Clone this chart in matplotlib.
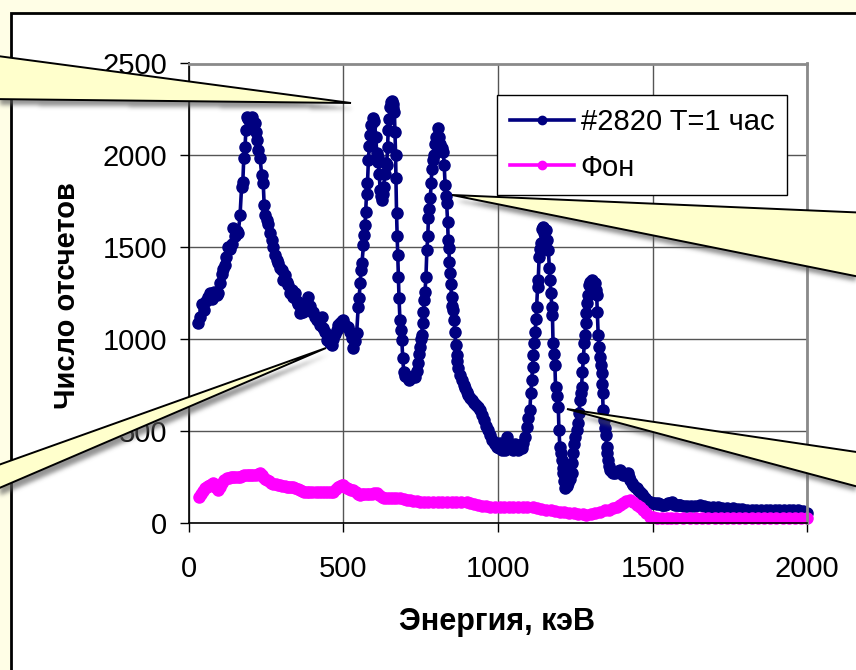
import numpy as np
import matplotlib
matplotlib.use("Agg")
import matplotlib.pyplot as plt
from matplotlib.path import Path
from matplotlib.patches import Polygon, Rectangle

plt.rcParams['font.family'] = ['Liberation Sans', 'DejaVu Sans']

# ---- spectrum of sample #2820, 1 hour exposure ----
sample_energy = [
    30, 36, 42, 48, 55, 62, 69, 76, 83, 90, 95, 101, 107, 112, 117, 122, 127, 133, 139, 144,
    150, 155, 160, 166, 171, 175, 178, 182, 185, 188, 193, 198, 204, 209, 214, 217, 220, 225, 231, 236,
    241, 244, 247, 252, 257, 263, 268, 274, 279, 285, 290, 296, 301, 306, 312, 317, 322, 328, 333, 338,
    344, 349, 354, 360, 365, 371, 376, 381, 387, 392, 398, 403, 408, 414, 419, 425, 430, 435, 441, 446,
    451, 457, 462, 467, 473, 478, 484, 489, 495, 500, 505, 511, 516, 521, 527, 532, 537, 543, 548, 551,
    554, 557, 560, 565, 568, 570, 572, 575, 578, 581, 584, 587, 590, 595, 600, 605, 608, 611, 613, 616,
    619, 622, 624, 627, 630, 634, 637, 640, 643, 645, 648, 651, 654, 656, 659, 662, 665, 667, 669, 670,
    672, 674, 676, 678, 680, 683, 686, 689, 692, 695, 700, 705, 712, 718, 725, 732, 737, 742, 745, 748,
    751, 753, 756, 759, 762, 764, 767, 770, 773, 775, 778, 781, 784, 786, 789, 792, 796, 801, 807, 810,
    812, 818, 823, 826, 829, 832, 834, 837, 839, 841, 843, 845, 847, 850, 852, 855, 858, 861, 863, 866,
    869, 872, 877, 884, 890, 894, 899, 903, 910, 916, 922, 929, 935, 942, 948, 955, 961, 968, 974, 980,
    986, 991, 997, 1002, 1007, 1013, 1018, 1023, 1028, 1033, 1039, 1044, 1050, 1055, 1060, 1066, 1071, 1077, 1082, 1088,
    1093, 1098, 1103, 1106, 1109, 1112, 1114, 1117, 1120, 1123, 1125, 1128, 1130, 1133, 1136, 1138, 1141, 1144, 1147, 1150,
    1155, 1160, 1163, 1166, 1168, 1171, 1174, 1176, 1178, 1181, 1184, 1186, 1190, 1195, 1197, 1200, 1203, 1206, 1209, 1211,
    1214, 1217, 1222, 1227, 1232, 1238, 1240, 1243, 1246, 1249, 1254, 1259, 1262, 1265, 1268, 1270, 1273, 1276, 1279, 1281,
    1284, 1286, 1289, 1292, 1294, 1298, 1303, 1308, 1313, 1316, 1319, 1321, 1324, 1327, 1330, 1333, 1335, 1337, 1338, 1340,
    1343, 1346, 1349, 1351, 1354, 1357, 1360, 1362, 1367, 1372, 1378, 1383, 1389, 1394, 1400, 1405, 1410, 1416, 1421, 1424,
    1427, 1432, 1437, 1443, 1448, 1454, 1459, 1464, 1470, 1475, 1480, 1486, 1491, 1497, 1502, 1508, 1513, 1518, 1524, 1529,
    1535, 1540, 1546, 1551, 1557, 1562, 1567, 1573, 1578, 1584, 1588, 1600, 1612, 1625, 1638, 1653, 1665, 1680, 1695, 1710,
    1725, 1740, 1761, 1775, 1790, 1805, 1820, 1835, 1850, 1865, 1880, 1895, 1910, 1925, 1940, 1955, 1970, 1985, 1998,
]
sample_counts = [
    1090, 1120, 1195, 1160, 1210, 1230, 1250, 1220, 1260, 1240, 1251, 1305, 1358, 1380, 1403, 1450, 1503, 1490, 1521, 1603,
    1560, 1590, 1576, 1675, 1829, 1857, 1984, 2047, 2137, 2210, 2200, 2185, 2210, 2160, 2174, 2128, 2083, 2029, 1984, 1893,
    1848, 1730, 1676, 1650, 1630, 1576, 1540, 1503, 1458, 1430, 1413, 1390, 1377, 1322, 1349, 1310, 1295, 1250, 1270, 1230,
    1250, 1210, 1195, 1141, 1180, 1150, 1200, 1168, 1232, 1180, 1150, 1150, 1120, 1105, 1105, 1080, 1123, 1060, 1041, 996,
    1010, 980, 969, 1000, 1030, 1051, 1080, 1090, 1100, 1105, 1080, 1070, 1068, 1040, 1005, 951, 990, 1032, 1177, 1223,
    1304, 1377, 1413, 1512, 1570, 1621, 1693, 1793, 1848, 1974, 2050, 2110, 2165, 2201, 2190, 2100, 2011, 1990, 1965, 1900,
    1811, 1780, 1757, 1790, 1830, 1900, 1960, 1947, 2047, 2137, 2200, 2264, 2291, 2295, 2280, 2260, 2237, 2128, 2000, 1875,
    1685, 1560, 1458, 1340, 1223, 1105, 1050, 996, 900, 824, 800, 797, 780, 790, 800, 797, 830, 870, 920, 960,
    1000, 1023, 1090, 1150, 1214, 1260, 1340, 1485, 1560, 1658, 1710, 1766, 1850, 1929, 1974, 2000, 2065, 2100, 2147, 2100,
    2065, 2040, 2020, 1950, 1839, 1780, 1739, 1640, 1540, 1495, 1420, 1359, 1300, 1232, 1180, 1159, 1105, 1040, 969, 915,
    880, 842, 806, 777, 750, 735, 715, 697, 680, 670, 655, 643, 630, 616, 590, 561, 530, 507, 480, 453,
    440, 430, 415, 410, 435, 398, 420, 400, 471, 440, 420, 410, 400, 430, 416, 400, 420, 410, 435, 470,
    525, 570, 616, 706, 780, 851, 915, 980, 1041, 1110, 1177, 1286, 1322, 1449, 1490, 1522, 1600, 1612, 1605, 1580,
    1594, 1540, 1485, 1386, 1322, 1250, 1177, 1132, 978, 920, 860, 742, 690, 634, 507, 416, 380, 344, 300, 272,
    230, 190, 205, 217, 240, 272, 330, 380, 430, 471, 510, 543, 600, 670, 710, 742, 824, 900, 978, 1023,
    1087, 1141, 1200, 1241, 1295, 1310, 1322, 1300, 1304, 1270, 1241, 1150, 1023, 960, 906, 860, 815, 760, 706, 616,
    560, 520, 480, 416, 380, 344, 310, 290, 280, 272, 272, 280, 285, 290, 270, 260, 265, 270, 272, 250,
    235, 220, 210, 199, 190, 180, 172, 160, 150, 136, 128, 120, 117, 112, 110, 108, 105, 109, 104, 102,
    100, 99, 105, 110, 113, 117, 105, 100, 98, 97, 99, 96, 95, 93, 95, 99, 96, 90, 88, 86,
    84, 83, 82, 80, 76, 74, 73, 74, 72, 73, 72, 71, 70, 72, 74, 72, 70, 66, 54,
]

# ---- background spectrum ----
background_energy = [
    33, 40, 47, 53, 58, 64, 70, 75, 80, 86, 91, 96, 102, 108, 115, 123, 130, 137, 144, 150,
    158, 166, 173, 180, 187, 195, 202, 209, 216, 223, 231, 236, 241, 246, 252, 260, 267, 274, 281, 288,
    295, 303, 310, 317, 324, 331, 338, 345, 352, 360, 367, 374, 382, 390, 400, 410, 420, 430, 440, 450,
    460, 467, 475, 483, 490, 495, 500, 506, 512, 518, 525, 532, 540, 547, 554, 561, 568, 576, 584, 592,
    600, 608, 616, 624, 632, 640, 650, 660, 670, 683, 695, 705, 715, 725, 737, 748, 760, 775, 790, 805,
    820, 835, 850, 865, 880, 899, 910, 922, 935, 948, 961, 974, 990, 1005, 1020, 1035, 1050, 1065, 1080, 1095,
    1114, 1125, 1140, 1155, 1170, 1185, 1200, 1215, 1230, 1245, 1260, 1275, 1286, 1300, 1315, 1330, 1345, 1360, 1373, 1385,
    1395, 1405, 1415, 1427, 1437, 1448, 1459, 1470, 1480, 1491, 1502, 1515, 1530, 1545, 1560, 1575, 1599, 1620, 1640, 1660,
    1680, 1700, 1720, 1740, 1761, 1780, 1800, 1820, 1840, 1860, 1880, 1900, 1920, 1940, 1960, 1980, 1998,
]
background_counts = [
    145, 160, 175, 190, 199, 205, 210, 215, 217, 200, 190, 181, 200, 220, 235, 245, 248, 250, 252, 253,
    252, 253, 258, 260, 262, 262, 260, 263, 265, 268, 272, 262, 250, 240, 235, 230, 220, 215, 212, 210,
    208, 205, 202, 200, 200, 199, 199, 190, 185, 180, 175, 172, 172, 172, 172, 172, 172, 172, 172, 172,
    172, 172, 185, 195, 205, 208, 208, 200, 190, 185, 183, 181, 168, 160, 154, 158, 160, 160, 161, 162,
    163, 163, 155, 145, 140, 136, 136, 136, 136, 136, 130, 128, 125, 122, 120, 117, 117, 117, 117, 117,
    117, 117, 117, 117, 117, 117, 112, 105, 100, 95, 92, 90, 90, 90, 90, 90, 90, 90, 90, 90,
    90, 85, 80, 75, 70, 65, 63, 60, 58, 56, 52, 48, 45, 50, 56, 63, 70, 75, 81, 90,
    100, 110, 120, 126, 115, 100, 90, 70, 55, 36, 32, 30, 28, 27, 28, 27, 27, 28, 30, 29,
    28, 27, 28, 27, 27, 28, 27, 27, 28, 27, 27, 28, 27, 27, 28, 27, 27,
]

series_labels = ["#2820 T=1 час", "Фон"]
x_ticks = [0, 500, 1000, 1500, 2000]
y_ticks = [0, 500, 1000, 1500, 2000, 2500]

W, H = 856, 670
fig = plt.figure(figsize=(W / 100, H / 100), dpi=100)
fig.patch.set_facecolor("#FFFEE6")

# white slide panel with a black frame
bg = fig.add_axes([0, 0, 1, 1], zorder=0)
bg.set_xlim(0, W)
bg.set_ylim(H, 0)
bg.axis("off")
bg.add_patch(Rectangle((11, 13), W + 40, H + 40, facecolor="white",
                       edgecolor="black", linewidth=2.0))

# plot area
L, R, T, B = 188.7, 807.3, 63.5, 523.3
ax = fig.add_axes([L / W, 1 - B / H, (R - L) / W, (B - T) / H], zorder=1)
ax.set_facecolor("white")
ax.set_xlim(0, 2000)
ax.set_ylim(0, 2500)
ax.set_xticks(x_ticks)
ax.set_yticks(y_ticks)
ax.grid(True, color="#555555", linewidth=1.0)
ax.set_axisbelow(True)
for s in ("top", "right"):
    ax.spines[s].set_color("#8a8a8a")
    ax.spines[s].set_linewidth(2.0)
for s in ("left", "bottom"):
    ax.spines[s].set_color("black")
    ax.spines[s].set_linewidth(1.2)
ax.tick_params(direction="out", length=6.5, width=1.0, colors="black", labelsize=21)
ax.tick_params(axis="x", pad=16)
ax.tick_params(axis="y", pad=9)

ax.plot(sample_energy, sample_counts, color="#000080", linewidth=2.6,
        marker="o", markersize=8, label=series_labels[0], clip_on=False)
ax.plot(background_energy, background_counts, color="#FF00FF", linewidth=2.6,
        marker="o", markersize=8, label=series_labels[1], clip_on=False)

leg = ax.legend(loc="upper left", bbox_to_anchor=(497 / W, 1 - 95 / H),
                bbox_transform=fig.transFigure, fontsize=21, frameon=True,
                fancybox=False, framealpha=1, edgecolor="black",
                handlelength=2.2, handletextpad=0.22, borderpad=0.45,
                labelspacing=0.6, borderaxespad=0, markerscale=0.75)
leg.get_frame().set_linewidth(1.0)

fig.text(67 / W, 1 - 296 / H, "Число отсчетов", rotation=90, ha="center",
         va="center", fontsize=21, fontweight="bold")
fig.text(497 / W, 1 - 622 / H, "Энергия, кэВ", ha="center", va="center",
         fontsize=22, fontweight="bold")

# callout pointers with soft drop shadows
ov = fig.add_axes([0, 0, 1, 1], zorder=3)
ov.set_xlim(0, W)
ov.set_ylim(H, 0)
ov.axis("off")

callouts = [
    [(-10, 55), (351, 103), (-10, 99)],
    [(452, 195), (870, 213), (870, 279)],
    [(-10, 468), (326, 348), (-10, 492)],
    [(567, 409), (870, 454), (870, 490)],
]

yy, xx = np.mgrid[0:H, 0:W]
pts = np.column_stack([xx.ravel() + 0.5, yy.ravel() + 0.5])
kernel = np.exp(-0.5 * (np.arange(-6, 7) / 2.2) ** 2)
kernel /= kernel.sum()
shadow = np.zeros((H, W))
for poly in callouts:
    shifted = [(px + 4, py + 6) for px, py in poly]
    shadow += Path(shifted).contains_points(pts).reshape(H, W)
shadow = np.clip(shadow, 0, 1)
shadow = np.apply_along_axis(lambda r: np.convolve(r, kernel, mode="same"), 1, shadow)
shadow = np.apply_along_axis(lambda c: np.convolve(c, kernel, mode="same"), 0, shadow)
rgba = np.zeros((H, W, 4))
rgba[..., :3] = 0.35
rgba[..., 3] = 0.65 * shadow
ov.imshow(rgba, extent=(0, W, H, 0), interpolation="bilinear", zorder=1)
ov.set_xlim(0, W)
ov.set_ylim(H, 0)

for poly in callouts:
    ov.add_patch(Polygon(poly, closed=True, facecolor="#FFFFCC",
                         edgecolor="black", linewidth=1.4, zorder=2,
                         joinstyle="miter"))

fig.savefig("out.png", dpi=100, facecolor=fig.get_facecolor())
